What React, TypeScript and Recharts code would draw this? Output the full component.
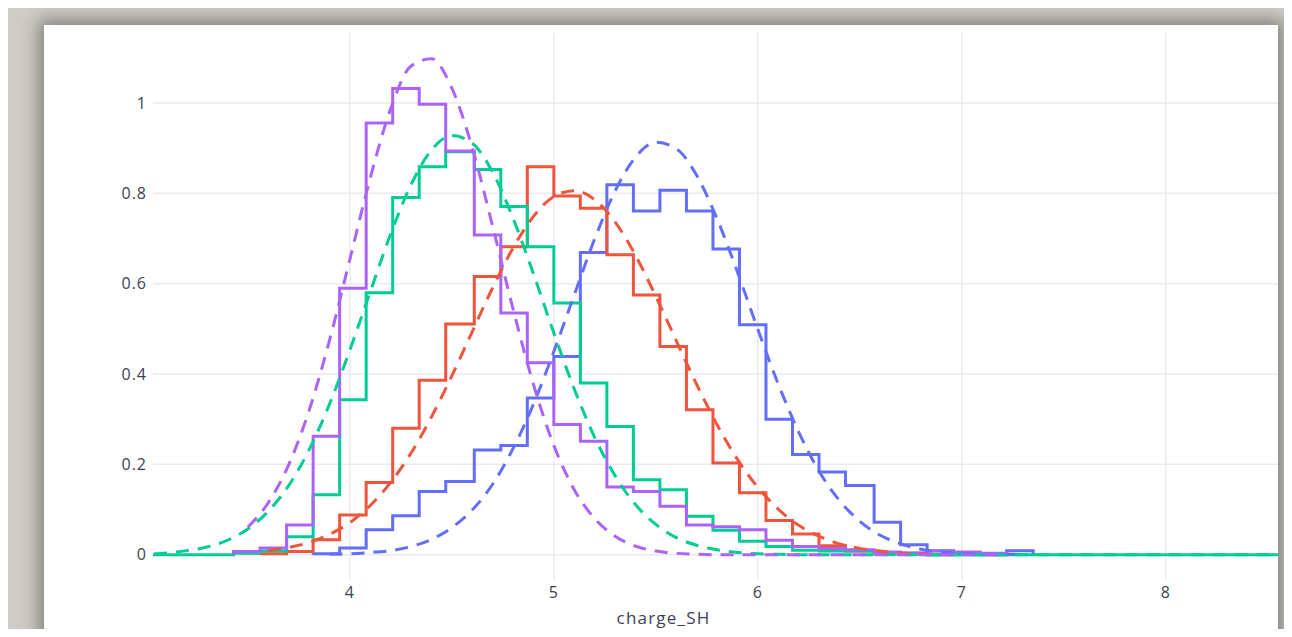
import React from "react";
import { LineChart, Line, XAxis, YAxis, CartesianGrid, Label } from "recharts";

// shared histogram bin edges (charge_SH)
const binEdges = [
  3.3, 3.43, 3.56, 3.69, 3.82, 3.95, 4.08, 4.21, 4.34, 4.47, 4.61, 4.74, 4.87,
  5.0, 5.13, 5.26, 5.39, 5.52, 5.65, 5.78, 5.91, 6.04, 6.17, 6.3, 6.43, 6.57,
  6.7, 6.83, 6.96, 7.09, 7.22, 7.35, 7.48,
];

// probability density per bin
const blueHist = [
  0, 0, 0, 0, 0.002, 0.015, 0.055, 0.086, 0.14, 0.162, 0.232, 0.242, 0.347,
  0.439, 0.669, 0.819, 0.761, 0.807, 0.761, 0.677, 0.509, 0.3, 0.222, 0.183,
  0.153, 0.072, 0.022, 0.009, 0.004, 0, 0.009, 0,
];
const redHist = [
  0, 0, 0.002, 0.007, 0.033, 0.088, 0.16, 0.28, 0.386, 0.511, 0.616, 0.682,
  0.859, 0.794, 0.767, 0.664, 0.575, 0.461, 0.321, 0.203, 0.137, 0.076, 0.046,
  0.02, 0.008, 0.004, 0.002, 0, 0, 0, 0, 0,
];
const greenHist = [
  0, 0.003, 0.008, 0.04, 0.133, 0.343, 0.58, 0.791, 0.859, 0.892, 0.853,
  0.771, 0.682, 0.557, 0.38, 0.284, 0.166, 0.144, 0.085, 0.054, 0.03, 0.018,
  0.01, 0.008, 0.008, 0.004, 0.003, 0, 0, 0, 0, 0,
];
const purpleHist = [
  0, 0.007, 0.015, 0.066, 0.262, 0.59, 0.956, 1.032, 0.997, 0.894, 0.708,
  0.535, 0.425, 0.288, 0.251, 0.15, 0.14, 0.107, 0.066, 0.062, 0.055, 0.032,
  0.018, 0.014, 0.011, 0.006, 0.004, 0.008, 0.006, 0.003, 0, 0,
];

// data range covered by each group
const blueRange = [3.82, 7.35];
const redRange = [3.56, 6.96];
const greenRange = [3.035, 8.55];
const purpleRange = [3.43, 7.22];

// fitted normal curves
const curveX = [
  3.04, 3.1, 3.2, 3.3, 3.4, 3.5, 3.6, 3.7, 3.8, 3.9, 4.0, 4.1, 4.2, 4.3, 4.4,
  4.5, 4.6, 4.7, 4.8, 4.9, 5.0, 5.1, 5.2, 5.3, 5.4, 5.5, 5.6, 5.7, 5.8, 5.9,
  6.0, 6.1, 6.2, 6.3, 6.4, 6.5, 6.6, 6.7, 6.8, 6.9, 7.0, 7.1, 7.2, 7.3, 7.4,
  7.5, 8.0, 8.55,
];
const blueFit = [
  0, 0, 0, 0, 0, 0, 0, 0, 0, 0.001, 0.002, 0.005, 0.009, 0.018, 0.034, 0.06,
  0.099, 0.156, 0.235, 0.333, 0.45, 0.575, 0.699, 0.805, 0.88, 0.913, 0.899,
  0.84, 0.744, 0.626, 0.499, 0.378, 0.272, 0.185, 0.12, 0.074, 0.043, 0.024,
  0.012, 0.006, 0.003, 0.001, 0.001, 0, 0, 0, 0, 0,
];
const redFit = [
  0, 0, 0.001, 0.001, 0.002, 0.005, 0.009, 0.016, 0.027, 0.045, 0.071, 0.109,
  0.16, 0.225, 0.305, 0.396, 0.494, 0.591, 0.679, 0.749, 0.793, 0.806, 0.786,
  0.737, 0.663, 0.572, 0.474, 0.377, 0.288, 0.211, 0.149, 0.101, 0.065, 0.041,
  0.024, 0.014, 0.008, 0.004, 0.002, 0.001, 0.001, 0, 0, 0, 0, 0, 0, 0,
];
const greenFit = [
  0.002, 0.004, 0.009, 0.017, 0.032, 0.057, 0.096, 0.153, 0.232, 0.333, 0.453,
  0.582, 0.71, 0.819, 0.896, 0.928, 0.911, 0.847, 0.745, 0.622, 0.491, 0.367,
  0.26, 0.175, 0.111, 0.067, 0.038, 0.021, 0.011, 0.005, 0.002, 0.001, 0, 0, 0,
  0, 0, 0, 0, 0, 0, 0, 0, 0, 0, 0, 0, 0,
];
const purpleFit = [
  0.001, 0.002, 0.006, 0.014, 0.03, 0.061, 0.115, 0.199, 0.319, 0.474, 0.654,
  0.834, 0.987, 1.082, 1.098, 1.033, 0.901, 0.727, 0.544, 0.377, 0.242, 0.144,
  0.08, 0.041, 0.019, 0.008, 0.003, 0.001, 0, 0, 0, 0, 0, 0, 0, 0, 0, 0, 0, 0,
  0, 0, 0, 0, 0, 0, 0, 0,
];

const xTicks = [4, 5, 6, 7, 8];
const yTicks = [0, 0.2, 0.4, 0.6, 0.8, 1];

const BLUE = "#636efa";
const RED = "#ef553b";
const GREEN = "#00cc96";
const PURPLE = "#ab63fa";

function histPoints(values: number[], range: number[]) {
  const pts = [{ x: range[0], y: 0 }];
  values.forEach((v, i) => {
    const x = binEdges[i];
    if (x >= range[0] && x < range[1]) pts.push({ x, y: v });
  });
  pts.push({ x: range[1], y: 0 });
  return pts;
}

function fitPoints(values: number[], range: number[]) {
  return curveX
    .map((x, i) => ({ x, y: values[i] }))
    .filter((p) => p.x >= range[0] - 1e-6 && p.x <= range[1] + 1e-6);
}

const tickStyle = {
  fontFamily: "'Open Sans', sans-serif",
  fontSize: 16,
  letterSpacing: 1,
  fill: "#3b4256",
};

export default function App() {
  const hists = [
    { key: "bh", data: histPoints(blueHist, blueRange), color: BLUE },
    { key: "rh", data: histPoints(redHist, redRange), color: RED },
    { key: "gh", data: histPoints(greenHist, greenRange), color: GREEN },
    { key: "ph", data: histPoints(purpleHist, purpleRange), color: PURPLE },
  ];
  const fits = [
    { key: "bf", data: fitPoints(blueFit, blueRange), color: BLUE },
    { key: "rf", data: fitPoints(redFit, redRange), color: RED },
    { key: "gf", data: fitPoints(greenFit, greenRange), color: GREEN },
    { key: "pf", data: fitPoints(purpleFit, purpleRange), color: PURPLE },
  ];

  return (
    <div
      style={{
        position: "relative",
        width: 1292,
        height: 637,
        margin: -8,
        overflow: "hidden",
        background: "#cfccc6",
      }}
    >
      <div
        style={{
          position: "absolute",
          left: 44,
          top: 25,
          width: 1234,
          height: 640,
          background: "#ffffff",
          boxShadow: "0 0 16px 5px rgba(0,0,0,0.38)",
        }}
      >
        <LineChart
          width={1234}
          height={612}
          margin={{ top: 8, right: 0, bottom: 0, left: 0 }}
        >
          <CartesianGrid
            stroke="#e8ebf1"
            strokeWidth={1.5}
            horizontalValues={yTicks}
            verticalValues={xTicks}
          />
          <XAxis
            type="number"
            dataKey="x"
            domain={[3.035, 8.55]}
            allowDataOverflow
            ticks={xTicks}
            axisLine={false}
            tickLine={false}
            tickSize={0}
            tickMargin={7}
            height={57}
            tick={tickStyle}
          >
            <Label
              value="charge_SH"
              position="insideBottom"
              offset={13}
              dx={-52}
              style={{
                fontFamily: "'Open Sans', sans-serif",
                fontSize: 17,
                letterSpacing: 1.2,
                fill: "#3b4256",
              }}
            />
          </XAxis>
          <YAxis
            type="number"
            dataKey="y"
            domain={[-0.056, 1.155]}
            allowDataOverflow
            ticks={yTicks}
            axisLine={false}
            tickLine={false}
            tickSize={0}
            tickMargin={6}
            width={109}
            tick={tickStyle}
          />
          {hists.map((s) => (
            <Line
              key={s.key}
              data={s.data}
              dataKey="y"
              type="stepAfter"
              stroke={s.color}
              strokeWidth={3}
              dot={false}
              activeDot={false}
              isAnimationActive={false}
            />
          ))}
          {fits.map((s) => (
            <Line
              key={s.key}
              data={s.data}
              dataKey="y"
              type="monotone"
              stroke={s.color}
              strokeWidth={3}
              strokeDasharray="13 9"
              dot={false}
              activeDot={false}
              isAnimationActive={false}
            />
          ))}
        </LineChart>
      </div>
    </div>
  );
}
